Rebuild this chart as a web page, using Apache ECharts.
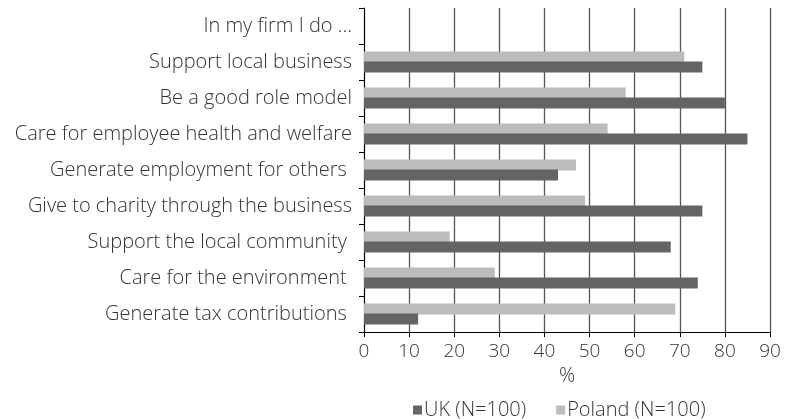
<!DOCTYPE html>
<html>
<head>
<meta charset="utf-8">
<script src="https://cdn.jsdelivr.net/npm/echarts@6/dist/echarts.min.js"></script>
<style>
  html, body { margin: 0; padding: 0; background: #fff; }
  #chart { width: 788px; height: 419px; }
</style>
</head>
<body>
<div id="chart"></div>
<script>
// Survey statements, top to bottom
const categories = [
  'In my firm I do ...',
  'Support local business',
  'Be a good role model',
  'Care for employee health and welfare',
  'Generate employment for others ',
  'Give to charity through the business',
  'Support the local community ',
  'Care for the environment ',
  'Generate tax contributions '
];
// Share of respondents (%), first row is a heading with no values
const ukValues =     [null, 75, 80, 85, 43, 75, 68, 74, 12];
const polandValues = [null, 71, 58, 54, 47, 49, 19, 29, 69];
const xTicks = { min: 0, max: 90, interval: 10 };

const font = '"Open Sans", Roboto, sans-serif';
const textColor = '#333333';

const chart = echarts.init(document.getElementById('chart'));
chart.setOption({
  animation: false,
  textStyle: { fontFamily: font, fontWeight: 300 },
  grid: { left: 364, right: 18, top: 8, bottom: 87, containLabel: false },
  legend: {
    left: 408,
    top: 395,
    itemWidth: 9,
    itemHeight: 9,
    itemGap: 30,
    icon: 'rect',
    textStyle: { fontFamily: font, fontWeight: 300, fontSize: 20, color: textColor, padding: [0, 0, 0, -3] },
    data: ['UK (N=100)', 'Poland (N=100)']
  },
  xAxis: {
    type: 'value',
    min: xTicks.min,
    max: xTicks.max,
    interval: xTicks.interval,
    name: '%',
    nameLocation: 'middle',
    nameGap: 33,
    nameTextStyle: { fontFamily: font, fontWeight: 300, fontSize: 20, color: textColor },
    axisLine: { show: true, lineStyle: { color: '#000', width: 1 } },
    axisTick: { show: true, length: 5, lineStyle: { color: '#000' } },
    axisLabel: { fontFamily: font, fontWeight: 300, fontSize: 19, color: textColor, margin: 10 },
    splitLine: { show: true, lineStyle: { color: '#555', width: 1.3 } }
  },
  yAxis: {
    type: 'category',
    inverse: true,
    data: categories,
    axisLine: { show: true, lineStyle: { color: '#000', width: 1 } },
    axisTick: { show: true, length: 5, lineStyle: { color: '#000' } },
    axisLabel: { fontFamily: font, fontWeight: 300, fontSize: 20, color: textColor, margin: 12 },
    splitLine: { show: false }
  },
  series: [
    {
      name: 'Poland (N=100)',
      type: 'bar',
      data: polandValues,
      barWidth: 11,
      barGap: '-9%',
      itemStyle: { color: '#bbbcbe' }
    },
    {
      name: 'UK (N=100)',
      type: 'bar',
      data: ukValues,
      barWidth: 11,
      barGap: '-9%',
      itemStyle: { color: '#636466' }
    }
  ]
});
</script>
</body>
</html>
